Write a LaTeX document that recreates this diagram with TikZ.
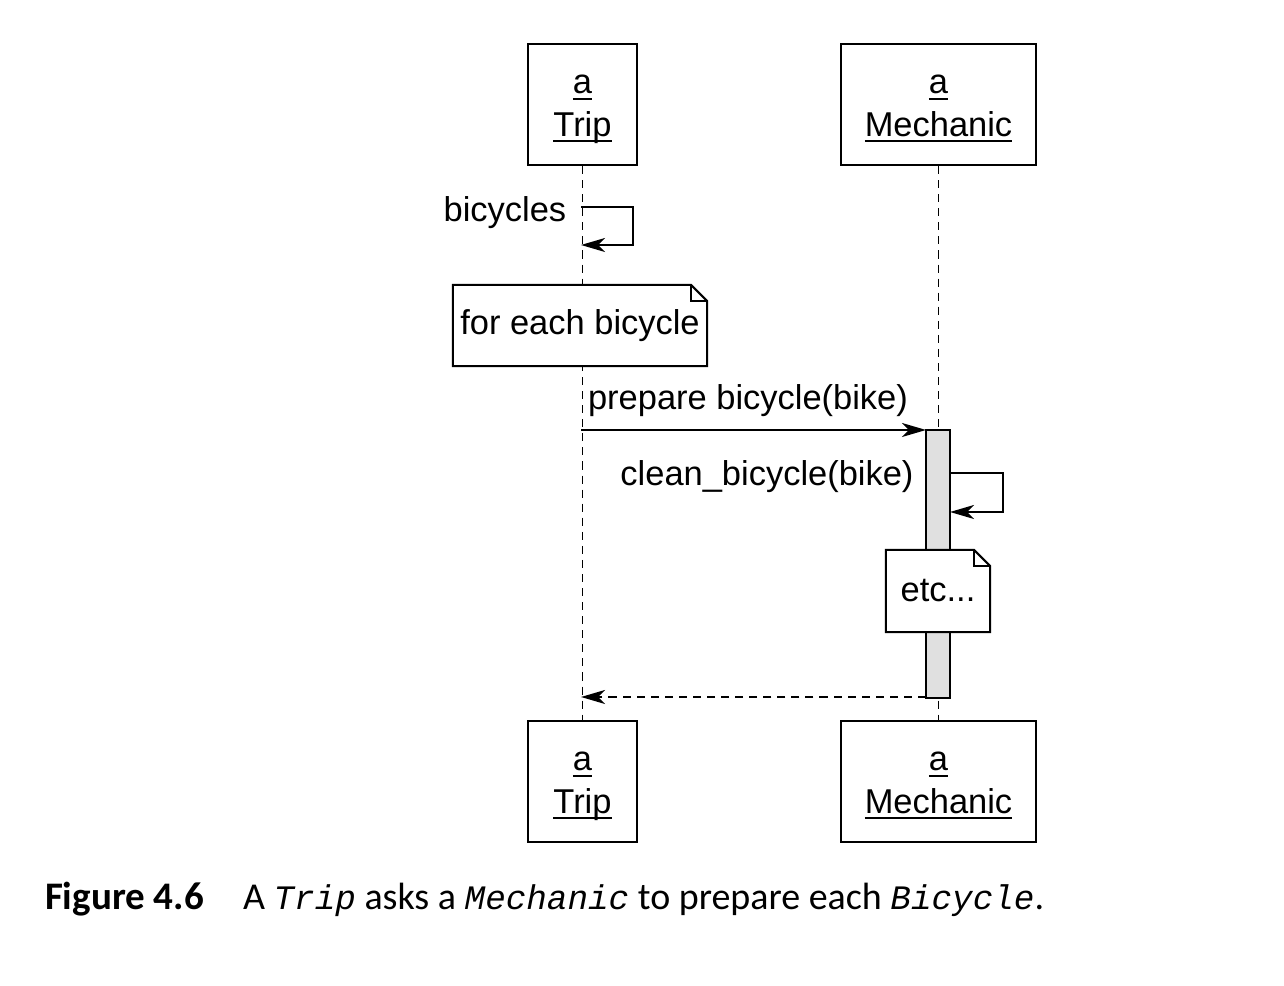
\documentclass[tikz,border=0pt]{standalone}
\usepackage{fontspec}
\setmainfont{Liberation Sans}
\setmonofont{Liberation Mono}
\newfontfamily\capfont{Carlito}
\usetikzlibrary{arrows.meta,calc}
\newcommand{\ulobj}[1]{\rule{0pt}{0.28cm}\underline{\smash{a}}\\\underline{\smash{#1}}}
\begin{document}
\begin{tikzpicture}[x=0.01cm,y=-0.01cm,line width=0.6pt,
    font=\fontsize{9.8}{12}\selectfont]
    \useasboundingbox (0,0) rectangle (1284,986);

    % Objetos
    \node[draw,minimum width=1.09cm,minimum height=1.21cm,align=center] (tripa) at (582.5,104.5) {\ulobj{Trip}};
    \node[draw,minimum width=1.95cm,minimum height=1.21cm,align=center] (meca) at (938.5,104.5) {\ulobj{Mechanic}};
    \node[draw,minimum width=1.09cm,minimum height=1.21cm,align=center] (tripb) at (582.5,781.5) {\ulobj{Trip}};
    \node[draw,minimum width=1.95cm,minimum height=1.21cm,align=center] (mecb) at (938.5,781.5) {\ulobj{Mechanic}};

    % Lineas de vida
    \draw[dash pattern=on 2.3pt off 1.7pt,line width=0.5pt] (tripa.south) -- (tripb.north);
    \draw[dash pattern=on 2.3pt off 1.7pt,line width=0.5pt] (meca.south) -- (mecb.north);

    % Activacion
    \node[draw,fill=black!12,minimum width=0.24cm,minimum height=2.68cm,inner sep=0pt,outer sep=0pt] (act) at (938,564) {};

    % bicycles
    \coordinate (b1) at (581,207);
    \coordinate (b2) at (581,245);
    \draw[-{Stealth[length=0.24cm,width=0.14cm,inset=0.07cm]}] (b1) -- (633,207) -- (633,245) -- (b2);
    \node[anchor=east] (lbicy) at (579,213) {bicycles};

    % Nota
    \node[minimum width=2.52cm,minimum height=0.79cm,inner xsep=0pt,fill=white] (nota) at (580,325.5) {for each bicycle};
    \draw (nota.north west) -- ($(nota.north east)+(-16,0)$) -- ($(nota.north east)+(0,16)$)
        -- (nota.south east) -- (nota.south west) -- cycle;
    \draw ($(nota.north east)+(-16,0)$) |- ($(nota.north east)+(0,16)$);

    % prepare bicycle
    \coordinate (p1) at (581,430);
    \draw[-{Stealth[length=0.24cm,width=0.14cm,inset=0.07cm]}] (p1) -- (p1 -| act.north west);
    \node (lprep) at (748,401) {prepare bicycle(bike)};

    % clean_bicycle
    \coordinate (c1) at (950,473);
    \coordinate (c2) at (950,512);
    \draw[-{Stealth[length=0.24cm,width=0.14cm,inset=0.07cm]}] (c1) -- (1003,473) -- (1003,512) -- (c2);
    \node (lclean) at (767,477) {clean\_bicycle(bike)};

    % etc
    \node[minimum width=1.02cm,minimum height=0.80cm,fill=white] (etc) at (938,591) {etc...};
    \draw (etc.north west) -- ($(etc.north east)+(-16,0)$) -- ($(etc.north east)+(0,16)$)
        -- (etc.south east) -- (etc.south west) -- cycle;
    \draw ($(etc.north east)+(-16,0)$) |- ($(etc.north east)+(0,16)$);

    % retorno
    \coordinate (r1) at (581,697);
    \draw[dash pattern=on 2.3pt off 1.7pt,-{Stealth[length=0.24cm,width=0.14cm,inset=0.07cm]}] (r1 -| act.south west) -- (r1);

    % Pie
    \node[anchor=base west,inner sep=0pt,font=\capfont\fontsize{11.1}{13}\selectfont\bfseries] (fig) at (44,910) {Figure 4.6};
    \node[anchor=base west,inner sep=0pt,font=\capfont\fontsize{10.8}{13}\selectfont] (cap) at (242,910)
        {A {\ttfamily\itshape\fontsize{9.75}{13}\selectfont Trip} asks a {\ttfamily\itshape\fontsize{9.75}{13}\selectfont Mechanic} to prepare each {\ttfamily\itshape\fontsize{9.75}{13}\selectfont Bicycle}.};
\end{tikzpicture}
\end{document}
